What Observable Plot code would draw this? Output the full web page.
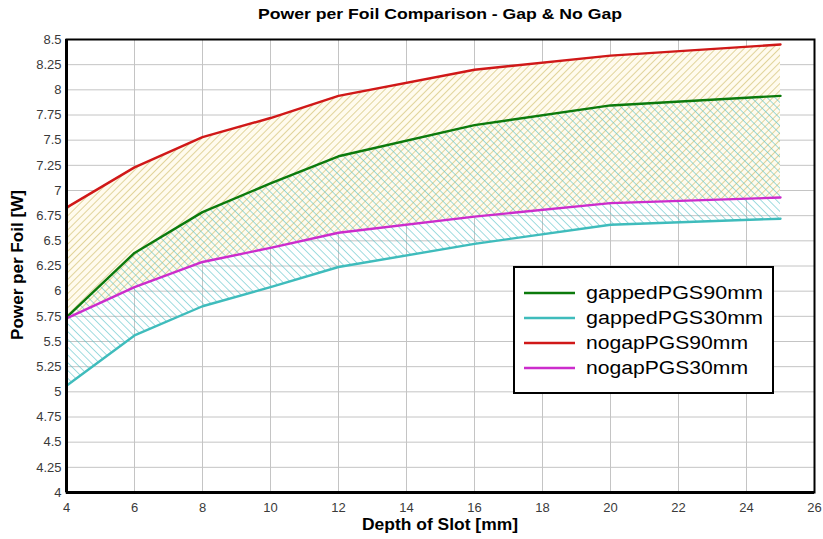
<!DOCTYPE html>
<html>
<head>
<meta charset="utf-8">
<script src="https://cdn.jsdelivr.net/npm/d3@7"></script>
<script src="https://cdn.jsdelivr.net/npm/@observablehq/plot@0.6"></script>
<style>
  body { margin: 0; background: #fff; font-family: "Liberation Sans", Arial, sans-serif; }
  #wrap { position: relative; width: 823px; height: 539px; }
  #chart { position: absolute; left: 0; top: 0; }
</style>
</head>
<body>
<div id="wrap">
  <div id="chart"></div>
</div>
<script>
const titleText = "Power per Foil Comparison - Gap & No Gap";
const depth = [4, 6, 8, 10, 12, 16, 20, 25];
const gappedPGS90mm = [5.74, 6.38, 6.785, 7.07, 7.34, 7.65, 7.845, 7.94];
const gappedPGS30mm = [5.06, 5.56, 5.85, 6.04, 6.24, 6.47, 6.66, 6.72];
const nogapPGS90mm  = [6.83, 7.23, 7.53, 7.72, 7.94, 8.20, 8.34, 8.45];
const nogapPGS30mm  = [5.73, 6.04, 6.29, 6.43, 6.58, 6.74, 6.875, 6.93];
const seriesNames = ["gappedPGS90mm", "gappedPGS30mm", "nogapPGS90mm", "nogapPGS30mm"];
const seriesColors = ["#0c7a0c", "#3fbcbc", "#d01818", "#cc2ccc"];
const xTicks = [4, 6, 8, 10, 12, 14, 16, 18, 20, 22, 24, 26];
const yTicks = [4, 4.25, 4.5, 4.75, 5, 5.25, 5.5, 5.75, 6, 6.25, 6.5, 6.75, 7, 7.25, 7.5, 7.75, 8, 8.25, 8.5];

const rows = depth.map((d, i) => ({
  x: d, g90: gappedPGS90mm[i], g30: gappedPGS30mm[i], n90: nogapPGS90mm[i], n30: nogapPGS30mm[i]
}));
const seriesData = [gappedPGS90mm, gappedPGS30mm, nogapPGS90mm, nogapPGS30mm];

const chart = Plot.plot({
  width: 823,
  height: 539,
  marginTop: 39,
  marginBottom: 47,
  marginLeft: 66,
  marginRight: 9,
  style: { fontFamily: "Liberation Sans, Arial, sans-serif", fontSize: "13px", color: "#3a3a3a", background: "#fff" },
  x: { domain: [4, 26], ticks: xTicks, tickSize: 0, tickPadding: 10, label: null },
  y: { domain: [4, 8.5], ticks: yTicks, tickSize: 0, tickPadding: 5, label: null,
       tickFormat: d => String(+d.toFixed(2)) },
  marks: [
    Plot.ruleX(xTicks.slice(1, -1), { stroke: "#c4c4c4", strokeWidth: 1 }),
    Plot.ruleY(yTicks.slice(1, -1), { stroke: "#c4c4c4", strokeWidth: 1 }),
    Plot.areaY(rows, { x: "x", y1: "n30", y2: "n90", fill: "url(#hatchO)" }),
    Plot.areaY(rows, { x: "x", y1: "g30", y2: "g90", fill: "url(#hatchC)" }),
    ...seriesData.map((vals, k) =>
      Plot.line(depth.map((d, i) => ({ x: d, y: vals[i] })),
        { x: "x", y: "y", stroke: seriesColors[k], strokeWidth: 2.4 })),
    Plot.frame({ stroke: "#000", strokeWidth: 2 }),
    Plot.ruleX([4], { stroke: "#000", strokeWidth: 3 }),
    Plot.ruleY([4], { stroke: "#000", strokeWidth: 3 })
  ]
});

const svg = d3.select(chart);
const defs = svg.insert("defs", ":first-child");
const pO = defs.append("pattern").attr("id", "hatchO").attr("patternUnits", "userSpaceOnUse")
  .attr("width", 5).attr("height", 5).attr("patternTransform", "rotate(45)");
pO.append("rect").attr("width", 5).attr("height", 5).attr("fill", "#fffbee");
pO.append("line").attr("x1", 0).attr("y1", 0).attr("x2", 0).attr("y2", 5)
  .attr("stroke", "#c9b457").attr("stroke-width", 1.1);
const pC = defs.append("pattern").attr("id", "hatchC").attr("patternUnits", "userSpaceOnUse")
  .attr("width", 5.5).attr("height", 5.5).attr("patternTransform", "rotate(-45)");
pC.append("line").attr("x1", 0).attr("y1", 0).attr("x2", 0).attr("y2", 5.5)
  .attr("stroke", "#52c0c6").attr("stroke-width", 1.1);

// title
svg.append("text").attr("x", 440).attr("y", 19).attr("text-anchor", "middle")
  .attr("font-weight", "bold").attr("font-size", 15).attr("fill", "#000")
  .attr("textLength", 364).attr("lengthAdjust", "spacingAndGlyphs")
  .text(titleText);

// axis labels
svg.append("text").attr("x", 440).attr("y", 530).attr("text-anchor", "middle")
  .attr("font-weight", "bold").attr("font-size", 16).attr("fill", "#000")
  .attr("textLength", 156).attr("lengthAdjust", "spacingAndGlyphs")
  .text("Depth of Slot [mm]");
svg.append("text").attr("transform", "translate(23,265) rotate(-90)").attr("text-anchor", "middle")
  .attr("font-weight", "bold").attr("font-size", 16).attr("fill", "#000")
  .attr("textLength", 150).attr("lengthAdjust", "spacingAndGlyphs")
  .text("Power per Foil [W]");

// legend
const lg = svg.append("g");
lg.append("rect").attr("x", 514).attr("y", 267).attr("width", 259).attr("height", 126)
  .attr("fill", "#fff").attr("stroke", "#000").attr("stroke-width", 2);
seriesNames.forEach((name, i) => {
  const yy = 293 + i * 25;
  lg.append("line").attr("x1", 524).attr("x2", 575).attr("y1", yy).attr("y2", yy)
    .attr("stroke", seriesColors[i]).attr("stroke-width", 2.4);
  lg.append("text").attr("x", 586).attr("y", yy).attr("dy", "0.36em")
    .attr("text-anchor", "start")
    .attr("font-size", 18).attr("fill", "#000")
    .attr("textLength", name.startsWith("gapped") ? 177 : 162).attr("lengthAdjust", "spacingAndGlyphs")
    .text(name);
});

document.getElementById("chart").appendChild(chart);
</script>
</body>
</html>
